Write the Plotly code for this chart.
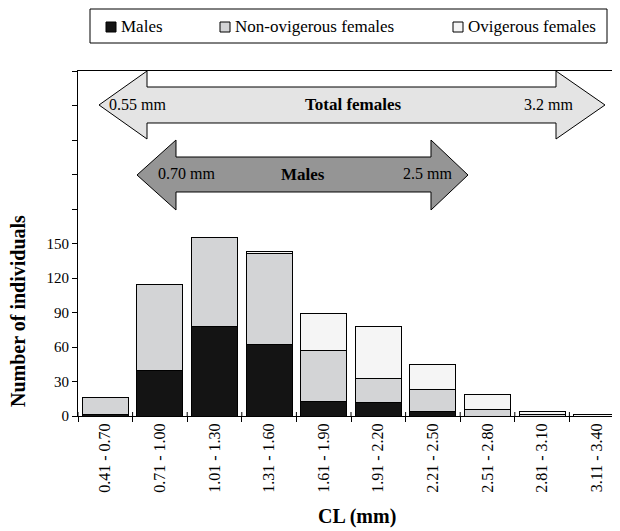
import plotly.graph_objects as go

categories = ["0.41 - 0.70", "0.71 - 1.00", "1.01 - 1.30", "1.31 - 1.60", "1.61 - 1.90",
              "1.91 - 2.20", "2.21 - 2.50", "2.51 - 2.80", "2.81 - 3.10", "3.11 - 3.40"]
males = [1, 40, 78, 62, 13, 12, 4, 0, 0, 0]
non_ovigerous = [15, 74, 77, 79, 44, 21, 19, 6, 1, 0]
ovigerous = [0, 0, 0, 2, 32, 45, 22, 13, 3, 1]
y_tickvals = [0, 30, 60, 90, 120, 150, 180, 210, 240, 270, 300]
y_ticktext = ["0", "30", "60", "90", "120", "150", "", "", "", "", ""]

OFF = 8  # default page margin of the html body
W, H = 620 - OFF, 531 - OFF
L, T = 78 - OFF, 71 - OFF
R = 0
B = H - (416 - OFF)
PW, PH = W - L - R, H - T - B
FONT = "Liberation Serif"


def px(x):  # page pixel -> paper
    return (x - OFF - L) / PW


def py(y):
    return (H - B - (y - OFF)) / PH


def path(pts):
    return "M " + " L ".join(f"{px(x):.5f},{py(y):.5f}" for x, y in pts) + " Z"


fig = go.Figure()
series = [("Males", males, "#141414"),
          ("Non-ovigerous females", non_ovigerous, "#d3d4d6"),
          ("Ovigerous females", ovigerous, "#f5f5f5")]
for name, vals, col in series:
    fig.add_trace(go.Bar(x=categories, y=vals, name=name, marker_color=col,
                         marker_line_color="#000000", marker_line_width=1,
                         showlegend=False))

shapes = []
annotations = []

# range arrows
fem = [(99, 105), (147, 71), (147, 87), (556, 87), (556, 71), (605, 105),
       (556, 139), (556, 123), (147, 123), (147, 139)]
mal = [(137, 175), (176, 140), (176, 157), (431, 157), (431, 140), (468, 175),
       (431, 210), (431, 192), (176, 192), (176, 210)]
shapes.append(dict(type="path", xref="paper", yref="paper", path=path(fem),
                   fillcolor="#e4e4e4", line=dict(color="#000000", width=1), layer="above"))
shapes.append(dict(type="path", xref="paper", yref="paper", path=path(mal),
                   fillcolor="#959595", line=dict(color="#000000", width=1), layer="above"))


def txt(x, y, s, size=16, bold=False, xanchor="center", angle=0):
    annotations.append(dict(x=px(x), y=py(y), xref="paper", yref="paper",
                            text=f"<b>{s}</b>" if bold else s,
                            showarrow=False, xanchor=xanchor, yanchor="middle", textangle=angle,
                            font=dict(family=FONT, size=size, color="#000000")))


txt(137, 105, "0.55 mm")
txt(353, 104, "Total females", size=17, bold=True)
txt(548, 105, "3.2 mm")
txt(186, 173, "0.70 mm")
txt(303, 174, "Males", size=17, bold=True)
txt(427, 173, "2.5 mm")

# axis titles
txt(18, 311, "Number of individuals", size=20, bold=True, angle=-90)
txt(357, 516, "CL (mm)", size=20, bold=True)

# legend (manual)
shapes.append(dict(type="rect", xref="paper", yref="paper", x0=px(90), x1=px(607), y0=py(9), y1=py(43),
                   line=dict(color="#000000", width=1), fillcolor="rgba(0,0,0,0)"))
leg = [(106, "Males", "#141414"), (220, "Non-ovigerous females", "#d3d4d6"),
       (453, "Ovigerous females", "#f5f5f5")]
for x0, name, col in leg:
    shapes.append(dict(type="rect", xref="paper", yref="paper", x0=px(x0), x1=px(x0 + 10),
                       y0=py(22), y1=py(32), fillcolor=col, line=dict(color="#000000", width=1)))
    txt(x0 + 13, 27, name, size=17, xanchor="left")

# tick marks crossing the x-axis (upper part)
for i in range(len(categories) + 1):
    shapes.append(dict(type="line", xref="x", yref="paper", x0=i - 0.5, x1=i - 0.5, y0=0, y1=4 / PH,
                       line=dict(color="#000000", width=1)))

fig.update_layout(
    width=W, height=H, barmode="stack", bargap=0.16,
    margin=dict(l=L, r=R, t=T, b=B, autoexpand=False),
    paper_bgcolor="white", plot_bgcolor="white",
    font=dict(family=FONT, size=15, color="#000000"),
    shapes=shapes, annotations=annotations,
    xaxis=dict(type="category", range=[-0.5, -0.5 + PW / 54.6], showline=True, linecolor="#000000",
               linewidth=1, mirror=True, ticks="outside", tickson="boundaries", ticklen=5,
               tickcolor="#000000", tickangle=-90, showgrid=False, tickfont=dict(family=FONT, size=16)),
    yaxis=dict(range=[0, 300], tickvals=y_tickvals, ticktext=y_ticktext, showline=True,
               linecolor="#000000", linewidth=1, ticks="outside", ticklen=5, tickcolor="#000000",
               showgrid=False, zeroline=False, tickfont=dict(family=FONT, size=15)),
)

fig.write_html("out.html")
